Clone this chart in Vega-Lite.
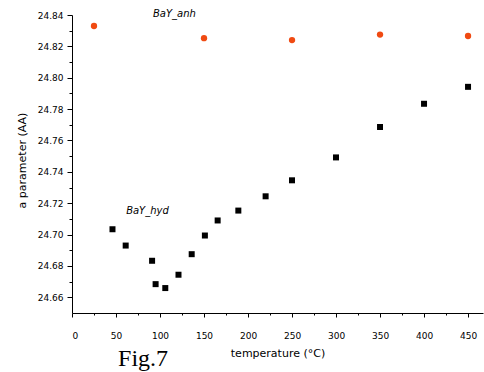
{
  "$schema": "https://vega.github.io/schema/vega-lite/v6.json",
  "width": 411,
  "height": 298,
  "autosize": {"type": "none"},
  "padding": {"left": 72, "top": 15, "right": 1, "bottom": 59},
  "background": "white",
  "config": {
    "view": {"stroke": null},
    "axis": {
      "grid": false,
      "domainColor": "black",
      "tickColor": "black",
      "labelColor": "black",
      "titleColor": "black",
      "labelFont": "DejaVu Sans",
      "titleFont": "DejaVu Sans",
      "labelFontSize": 9,
      "titleFontSize": 10,
      "titleFontWeight": "normal"
    }
  },
  "data": {
    "values": [
      {"temp": 25, "a": 24.833, "series": "BaY_anh"},
      {"temp": 150, "a": 24.8252, "series": "BaY_anh"},
      {"temp": 250, "a": 24.824, "series": "BaY_anh"},
      {"temp": 350, "a": 24.8275, "series": "BaY_anh"},
      {"temp": 450, "a": 24.8266, "series": "BaY_anh"},
      {"temp": 46, "a": 24.7034, "series": "BaY_hyd"},
      {"temp": 61, "a": 24.693, "series": "BaY_hyd"},
      {"temp": 91, "a": 24.6833, "series": "BaY_hyd"},
      {"temp": 95, "a": 24.6684, "series": "BaY_hyd"},
      {"temp": 106, "a": 24.6659, "series": "BaY_hyd"},
      {"temp": 121, "a": 24.6744, "series": "BaY_hyd"},
      {"temp": 136, "a": 24.6875, "series": "BaY_hyd"},
      {"temp": 151, "a": 24.6994, "series": "BaY_hyd"},
      {"temp": 165.5, "a": 24.709, "series": "BaY_hyd"},
      {"temp": 189, "a": 24.7153, "series": "BaY_hyd"},
      {"temp": 220, "a": 24.7244, "series": "BaY_hyd"},
      {"temp": 250, "a": 24.7346, "series": "BaY_hyd"},
      {"temp": 300, "a": 24.7492, "series": "BaY_hyd"},
      {"temp": 350, "a": 24.7686, "series": "BaY_hyd"},
      {"temp": 400, "a": 24.7834, "series": "BaY_hyd"},
      {"temp": 450, "a": 24.7942, "series": "BaY_hyd"}
    ]
  },
  "resolve": {"axis": {"x": "independent", "y": "independent"}},
  "layer": [
    {
      "mark": {"type": "point", "opacity": 0},
      "encoding": {
        "x": {
          "field": "temp", "type": "quantitative",
          "scale": {"domain": [0, 467], "nice": false, "zero": false},
          "axis": {"orient": "bottom", "values": [25, 75, 125, 175, 225, 275, 325, 375, 425], "labels": false, "domain": false, "tickSize": 2, "title": null}
        },
        "y": {
          "field": "a", "type": "quantitative",
          "scale": {"domain": [24.65, 24.84], "nice": false, "zero": false},
          "axis": {"orient": "left", "values": [24.67, 24.69, 24.71, 24.73, 24.75, 24.77, 24.79, 24.81, 24.83], "labels": false, "domain": false, "tickSize": 3, "title": null}
        }
      }
    },
    {
      "mark": {"type": "point", "filled": true, "opacity": 1, "strokeWidth": 0},
      "encoding": {
        "x": {
          "field": "temp", "type": "quantitative",
          "axis": {"orient": "bottom", "values": [0, 50, 100, 150, 200, 250, 300, 350, 400, 450], "tickSize": 4, "labelPadding": 14, "title": "temperature  (°C)", "titleFontSize": 11, "titlePadding": 7, "titleColor": "black"}
        },
        "y": {
          "field": "a", "type": "quantitative",
          "axis": {"orient": "left", "values": [24.66, 24.68, 24.7, 24.72, 24.74, 24.76, 24.78, 24.8, 24.82, 24.84], "format": ".2f", "tickSize": 5, "labelPadding": 4, "title": "a parameter (AA)", "titlePadding": 10, "titleFontSize": 11, "titleColor": "black", "titleY": 145}
        },
        "shape": {
          "field": "series", "type": "nominal",
          "scale": {"domain": ["BaY_anh", "BaY_hyd"], "range": ["circle", "square"]},
          "legend": null
        },
        "color": {
          "field": "series", "type": "nominal",
          "scale": {"domain": ["BaY_anh", "BaY_hyd"], "range": ["#f04a12", "#000000"]},
          "legend": null
        },
        "size": {
          "field": "series", "type": "nominal",
          "scale": {"domain": ["BaY_anh", "BaY_hyd"], "range": [40, 36]},
          "legend": null
        }
      }
    },
    {
      "data": {
        "values": [
          {"label": "BaY_anh", "tx": 92, "ty": 24.8406},
          {"label": "BaY_hyd", "tx": 61.5, "ty": 24.7153}
        ]
      },
      "mark": {"type": "text", "align": "left", "baseline": "middle", "font": "DejaVu Sans", "fontSize": 10, "fontStyle": "italic", "color": "black", "clip": false},
      "encoding": {
        "x": {"field": "tx", "type": "quantitative", "axis": null},
        "y": {"field": "ty", "type": "quantitative", "axis": null},
        "text": {"field": "label"}
      }
    },
    {
      "data": {"values": [{"label": "Fig.7", "tx": 52.3, "ty": 24.616}]},
      "mark": {"type": "text", "align": "left", "baseline": "alphabetic", "font": "Liberation Serif", "fontSize": 24, "color": "black", "clip": false},
      "encoding": {
        "x": {"field": "tx", "type": "quantitative", "axis": null},
        "y": {"field": "ty", "type": "quantitative", "axis": null},
        "text": {"field": "label"}
      }
    }
  ]
}
